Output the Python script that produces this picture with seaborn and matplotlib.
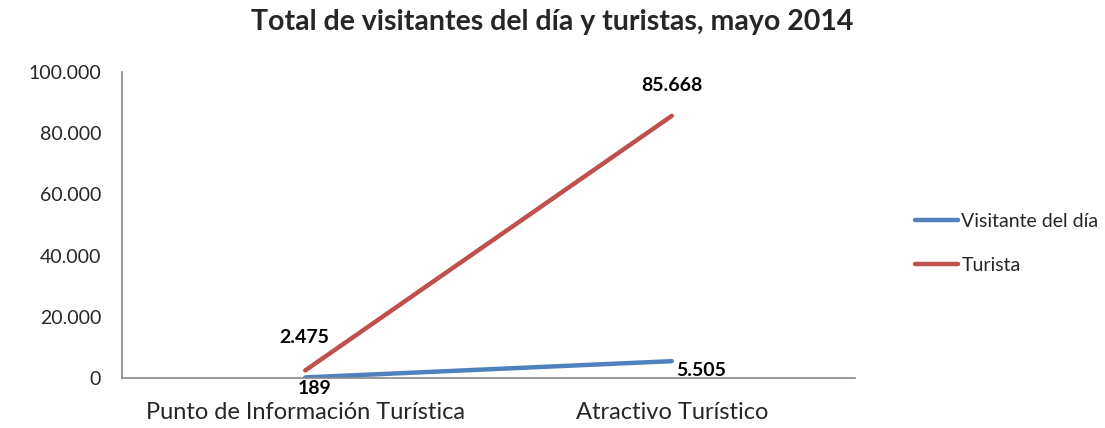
import matplotlib
matplotlib.use("Agg")
import matplotlib.pyplot as plt
import matplotlib.ticker as mticker
import seaborn as sns
import pandas as pd

# data
categorias = ["Punto de Información Turística", "Atractivo Turístico"]
visitante_dia = [189, 5505]
turista = [2475, 85668]
series = ["Visitante del día", "Turista"]
colores = ["#4F81BD", "#C0504D"]

df = pd.DataFrame({
    "categoria": categorias * 2,
    "valor": visitante_dia + turista,
    "serie": [series[0]] * 2 + [series[1]] * 2,
})


def miles(v):
    return f"{int(v):,}".replace(",", ".")


sns.set_style("white")
plt.rcParams["font.family"] = ["Lato", "DejaVu Sans"]

fig = plt.figure(figsize=(11.05, 4.28), dpi=100)
ax = fig.add_axes([0.1104, 0.1168, 0.6634, 0.715])

sns.lineplot(data=df, x="categoria", y="valor", hue="serie",
             palette=colores, linewidth=3.2, ax=ax, sort=False,
             solid_capstyle="round")

ax.set_xlim(-0.5, 1.5)
ax.set_ylim(0, 100000)
ax.set_yticks(range(0, 100001, 20000))
ax.yaxis.set_major_formatter(mticker.FuncFormatter(lambda v, p: miles(v)))

# x ticks between categories, labels centered
ax.set_xticks([-0.5, 0.5, 1.5])
ax.set_xticklabels([])
ax.set_xticks([0, 1], minor=True)
ax.set_xticklabels(categorias, minor=True, fontsize=17)
ax.tick_params(axis="x", which="minor", length=0, pad=17)
ax.tick_params(axis="x", which="major", length=6, color="#888888", direction="out")
ax.tick_params(axis="y", length=6, color="#888888", direction="out", labelsize=14, pad=9)

for s in ["top", "right"]:
    ax.spines[s].set_visible(False)
for s in ["left", "bottom"]:
    ax.spines[s].set_color("#888888")
    ax.spines[s].set_linewidth(1.2)

ax.set_xlabel("")
ax.set_ylabel("")

# data labels
lab = dict(fontsize=14, fontweight="bold", color="black",
           textcoords="offset points", ha="center", va="center")
ax.annotate(miles(turista[0]), (0, turista[0]), xytext=(-1, 24), **lab)
ax.annotate(miles(turista[1]), (1, turista[1]), xytext=(0, 22), **lab)
ax.annotate(miles(visitante_dia[0]), (0, visitante_dia[0]), xytext=(7, -8), **lab)
ax.annotate(miles(visitante_dia[1]), (1, visitante_dia[1]), xytext=(21, -7), **lab)

ax.legend(frameon=False, loc="center left", bbox_to_anchor=(0.812, 0.431),
          bbox_transform=fig.transFigure, fontsize=14, handlelength=2.2,
          handletextpad=0.2, labelspacing=1.4)

fig.suptitle("Total de visitantes del día y turistas, mayo 2014", fontsize=20.5,
             fontweight="bold", x=0.5, y=0.98)

fig.savefig("out.png", dpi=100)
